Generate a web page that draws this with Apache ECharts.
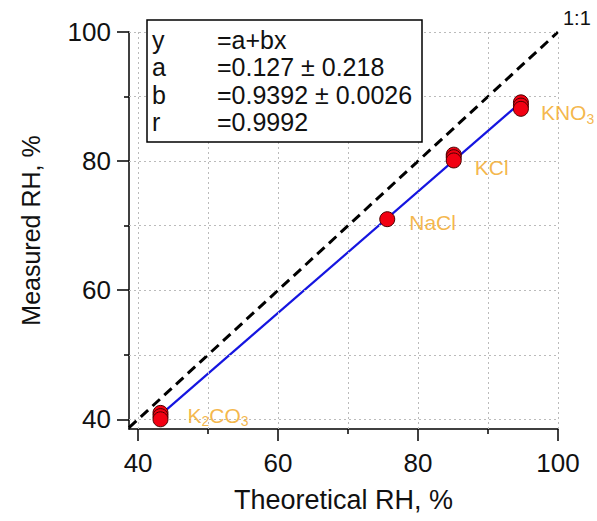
<!DOCTYPE html>
<html>
<head>
<meta charset="utf-8">
<script src="https://cdn.jsdelivr.net/npm/echarts@6/dist/echarts.min.js"></script>
<style>html,body{margin:0;padding:0;background:#fff;}#c{width:597px;height:521px;}</style>
</head>
<body>
<div id="c"></div>
<script>
// ---- data ----
const salts = ['K2CO3', 'NaCl', 'KCl', 'KNO3'];
const labelX = [43.2, 75.6, 85.1, 94.7];
const labelY = [40.3, 71.0, 80.4, 88.4];
const pointsX = [43.2, 43.2, 43.2, 75.6, 85.1, 85.1, 85.1, 94.7, 94.7, 94.7];
const pointsY = [41.0, 40.5, 40.0, 71.0, 81.0, 80.6, 80.1, 89.1, 88.6, 88.1];
const fitX = [43.2, 94.7];
const fitY = [40.7, 89.1];
const oneToOne = [38.7, 100];
const majorTicks = [40, 60, 80, 100];
const minorTicks = [50, 70, 90];
const gridValues = [40, 50, 60, 70, 80, 90, 100];
const fitText = [['y', '=a+bx'], ['a', '=0.127 \u00b1 0.218'], ['b', '=0.9392 \u00b1 0.0026'], ['r', '=0.9992']];

const FONT = '"Liberation Sans", Arial, sans-serif';
const ORANGE = '#F2A51A';
const labelOffsets = [[22, -2], [17, 3], [16, 9], [15, 6]];

function saltLabel(name) {
  let s = '';
  for (const part of name.split(/(\d)/)) {
    if (!part) continue;
    if (/^\d$/.test(part)) s += '{s|' + part + '}';
    else s += '{n|' + part + '}';
  }
  return s;
}

const chart = echarts.init(document.getElementById('c'), null, {renderer: 'svg'});
const xMin = 38.7, xMax = 100, yMin = 38.5, yMax = 100;
const axisCommon = {
  type: 'value',
  axisLine: {show: true, onZero: false, lineStyle: {color: '#000', width: 1.5}},
  splitLine: {show: false}
};
const option = {
  backgroundColor: '#fff',
  animation: false,
  grid: {left: 129, right: 39, top: 32, bottom: 92},
  xAxis: [
    Object.assign({}, axisCommon, {
      min: xMin, max: xMax, position: 'bottom',
      name: 'Theoretical RH, %', nameLocation: 'middle', nameGap: 57,
      nameTextStyle: {fontFamily: FONT, fontSize: 27, color: '#111'},
      axisTick: {show: true, customValues: majorTicks, length: 12, lineStyle: {color: '#000', width: 1.5}},
      axisLabel: {customValues: majorTicks, fontFamily: FONT, fontSize: 26, color: '#111', margin: 21}
    }),
    Object.assign({}, axisCommon, {
      min: xMin, max: xMax, position: 'bottom',
      axisLine: {show: false},
      axisTick: {show: true, customValues: minorTicks, length: 5, lineStyle: {color: '#000', width: 1.5}},
      axisLabel: {show: false}
    })
  ],
  yAxis: [
    Object.assign({}, axisCommon, {
      min: yMin, max: yMax, position: 'left',
      name: 'Measured RH, %', nameLocation: 'middle', nameGap: 86,
      nameTextStyle: {fontFamily: FONT, fontSize: 25, color: '#111'},
      axisTick: {show: true, customValues: majorTicks, length: 12, lineStyle: {color: '#000', width: 1.5}},
      axisLabel: {customValues: majorTicks, fontFamily: FONT, fontSize: 26, color: '#111', margin: 18}
    }),
    Object.assign({}, axisCommon, {
      min: yMin, max: yMax, position: 'left',
      axisLine: {show: false},
      axisTick: {show: true, customValues: minorTicks, length: 5, lineStyle: {color: '#000', width: 1.5}},
      axisLabel: {show: false}
    })
  ],
  series: [
    {
      type: 'line', data: [], silent: true, z: 1,
      markLine: {
        silent: true, symbol: 'none', animation: false,
        label: {show: false},
        lineStyle: {color: '#bbb', type: [2, 3], width: 1},
        data: gridValues.map(v => ({xAxis: v})).concat(gridValues.map(v => ({yAxis: v})))
      }
    },
    {
      type: 'line', z: 3, symbol: 'none', silent: true,
      data: oneToOne.map(v => [v, v]),
      lineStyle: {color: '#000', width: 3, type: [10, 6]}
    },
    {
      type: 'line', z: 4, symbol: 'none', silent: true,
      data: fitX.map((x, i) => [x, fitY[i]]),
      lineStyle: {color: '#1515E0', width: 2.2}
    },
    {
      type: 'scatter', z: 5, symbol: 'circle', symbolSize: 15,
      data: pointsX.map((x, i) => [x, pointsY[i]]),
      itemStyle: {color: '#F20012', borderColor: '#4A0000', borderWidth: 1, opacity: 1}
    },
    {
      type: 'scatter', z: 6, symbolSize: 0, silent: true,
      data: labelX.map((x, i) => ({
        value: [x, labelY[i]],
        label: {
          show: true, position: 'right', offset: labelOffsets[i],
          formatter: saltLabel(salts[i]),
          rich: {
            n: {fontFamily: FONT, fontSize: 21, color: ORANGE},
            s: {fontFamily: FONT, fontSize: 14, color: ORANGE, padding: [12, 0, 0, 0]}
          }
        }
      }))
    }
  ],
  graphic: [
    {
      type: 'rect', z: 100,
      shape: {x: 147, y: 20, width: 275, height: 122},
      style: {fill: '#fff', stroke: '#000', lineWidth: 1.5}
    }
  ].concat(fitText.flatMap((row, i) => [
    {type: 'text', z: 101, x: 152, y: 40 + i * 27.3,
     style: {text: row[0], fontFamily: FONT, fontSize: 25, fill: '#111', verticalAlign: 'middle'}},
    {type: 'text', z: 101, x: 217, y: 40 + i * 27.3,
     style: {text: row[1], fontFamily: FONT, fontSize: 25, fill: '#111', verticalAlign: 'middle'}}
  ])).concat([
    {type: 'text', z: 101, x: 563, y: 18,
     style: {text: '1:1', fontFamily: FONT, fontSize: 20, fill: '#111', verticalAlign: 'middle'}}
  ])
};
chart.setOption(option);
</script>
</body>
</html>
